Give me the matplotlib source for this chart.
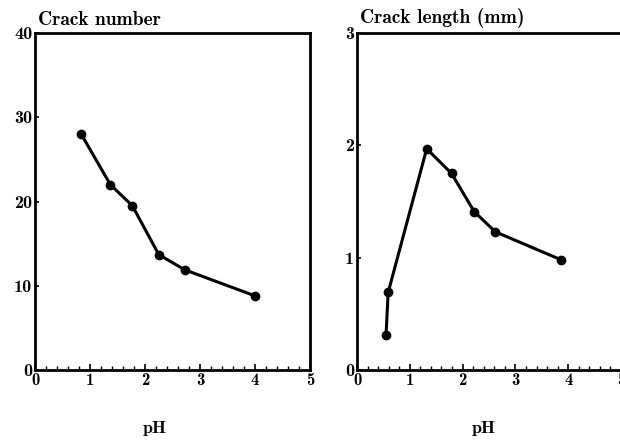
import matplotlib
matplotlib.use("Agg")
import matplotlib.pyplot as plt
from matplotlib.ticker import MultipleLocator

# Data
ph_number = [0.84, 1.37, 1.77, 2.25, 2.72, 4.0]
crack_number = [28.0, 22.0, 19.5, 13.7, 11.9, 8.8]

ph_length = [0.55, 0.59, 1.32, 1.79, 2.22, 2.62, 3.87]
crack_length = [0.31, 0.69, 1.97, 1.75, 1.41, 1.23, 0.98]

x_ticks = [0, 1, 2, 3, 4, 5]
y_ticks_number = [0, 10, 20, 30, 40]
y_ticks_length = [0, 1, 2, 3]

FONT = "cmb10"
plt.rcParams["font.family"] = [FONT, "DejaVu Serif"]
plt.rcParams["axes.unicode_minus"] = False

fig = plt.figure(figsize=(6.2, 4.41), dpi=100)
H = 441.0
W = 620.0

def make_axes(left_px, right_px):
    return fig.add_axes([left_px / W, 1 - 370 / H, (right_px - left_px) / W, (370 - 33) / H])

ax1 = make_axes(35, 310)
ax2 = make_axes(357, 621)

def style(ax, yticks, title, title_x, title_y):
    ax.set_xlim(0, 5)
    ax.set_ylim(yticks[0], yticks[-1])
    ax.set_xticks(x_ticks)
    ax.set_yticks(yticks)
    ax.xaxis.set_minor_locator(MultipleLocator(0.2))
    for s in ax.spines.values():
        s.set_linewidth(2.0)
    ax.tick_params(axis="x", which="major", direction="in", length=4, width=1.2, pad=2, labelsize=12)
    ax.tick_params(axis="x", which="minor", direction="in", length=3, width=1.0)
    ax.tick_params(axis="y", which="major", direction="in", length=3, width=1.2, pad=2, labelsize=13)
    ax.tick_params(top=False, right=False)
    fig.text(title_x / W, 1 - title_y / H, title, fontsize=14, ha="left", va="center")

style(ax1, y_ticks_number, "Crack number", 38, 20)
style(ax2, y_ticks_length, "Crack length (mm)", 360, 18)

ax1.plot(ph_number, crack_number, color="black", lw=2.2, marker="o", ms=6)
ax2.plot(ph_length, crack_length, color="black", lw=2.2, marker="o", ms=6)

fig.text(155 / W, 1 - 429 / H, "pH", fontsize=13, ha="center", va="center")
fig.text(484 / W, 1 - 429 / H, "pH", fontsize=13, ha="center", va="center")

fig.savefig("out.png", dpi=100)
